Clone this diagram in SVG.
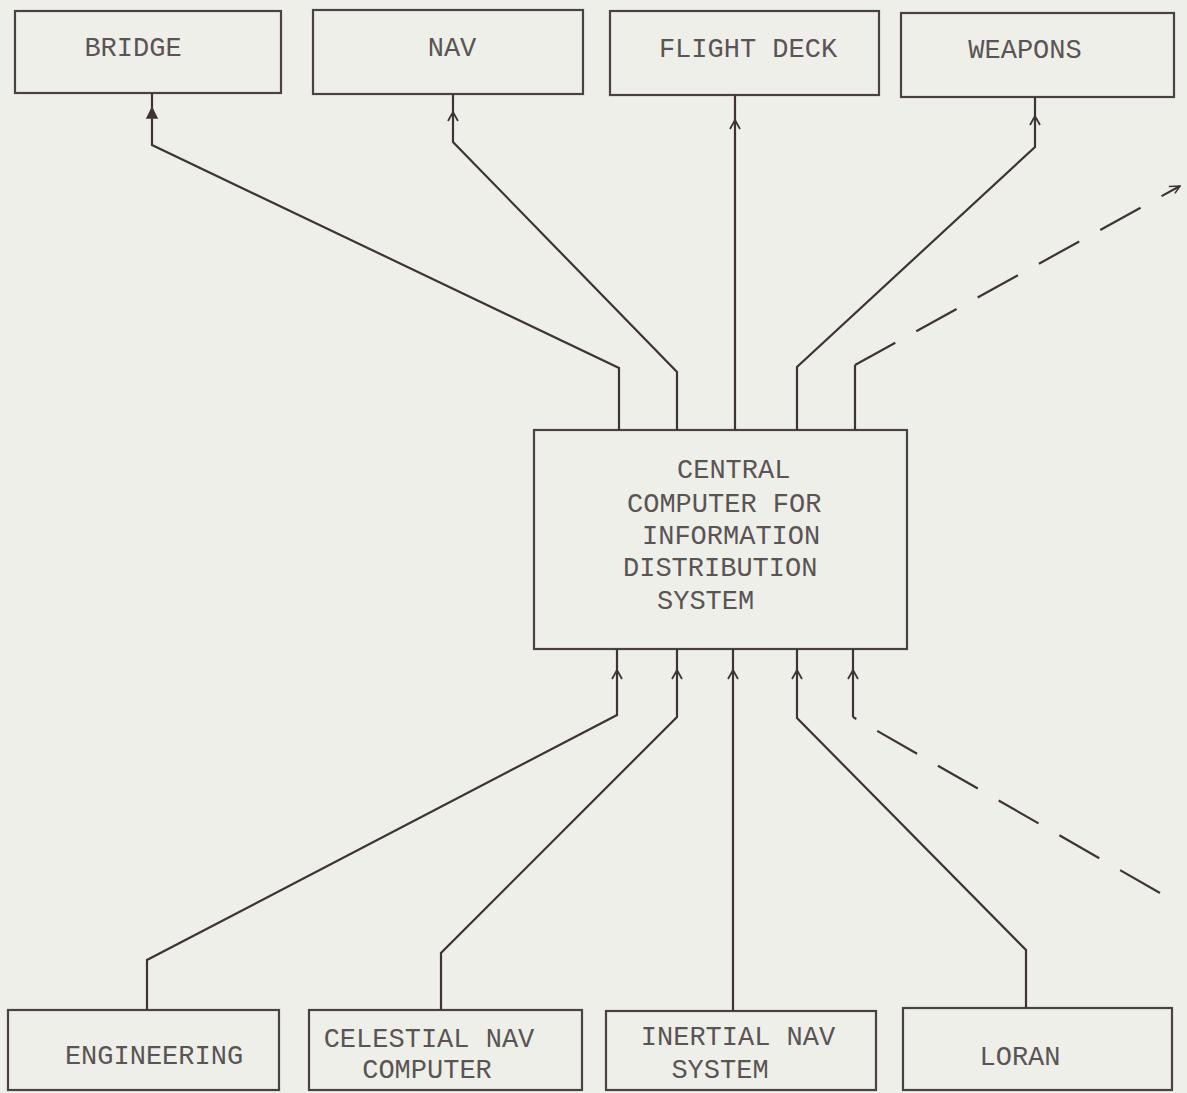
<svg xmlns="http://www.w3.org/2000/svg" xmlns:xlink="http://www.w3.org/1999/xlink" width="1187" height="1093" viewBox="0 0 1187 1093">
<style>
.box{fill:none;stroke:#4a4242;stroke-width:2.2}
.t{font-family:"Liberation Mono","Courier New",monospace;font-size:27px;fill:#5a5454}
.c{text-anchor:middle}
.ln{fill:none;stroke:#3e3434;stroke-width:2.2;stroke-linejoin:miter}
.dash{stroke-dasharray:46 24}
.ah{fill:none;stroke:#3e3434;stroke-width:1.8}
</style>
<defs>
<path id="ah" class="ah" d="M-5,9 L0,0 L5,9"/>
<marker id="tip" viewBox="0 0 12 12" refX="11" refY="6" markerWidth="12" markerHeight="12" markerUnits="userSpaceOnUse" orient="auto">
<path d="M1,1 L11,6 L3,10" fill="none" stroke="#3e3434" stroke-width="1.6"/>
</marker>
</defs>
<rect width="1187" height="1093" fill="#efefea"/>

<g id="bridge"><rect class="box" x="15" y="11" width="266" height="82"/><text class="t c" x="133" y="56">BRIDGE</text></g>
<g id="nav"><rect class="box" x="313" y="10" width="270" height="84"/><text class="t c" x="452" y="56">NAV</text></g>
<g id="flight-deck"><rect class="box" x="610" y="11" width="269" height="84"/><text class="t c" x="748" y="57">FLIGHT DECK</text></g>
<g id="weapons"><rect class="box" x="901" y="13" width="273" height="84"/><text class="t c" x="1025" y="58">WEAPONS</text></g>

<g id="central"><rect class="box" x="534" y="430" width="373" height="219"/>
<text class="t" x="677" y="478">CENTRAL</text>
<text class="t" x="627" y="512">COMPUTER FOR</text>
<text class="t" x="642" y="544">INFORMATION</text>
<text class="t" x="623" y="576">DISTRIBUTION</text>
<text class="t" x="657" y="609">SYSTEM</text>
</g>

<g id="engineering"><rect class="box" x="8" y="1010" width="271" height="80"/><text class="t c" x="154" y="1064">ENGINEERING</text></g>
<g id="celestial"><rect class="box" x="309" y="1010" width="273" height="80"/><text class="t c" x="429" y="1047">CELESTIAL NAV</text><text class="t c" x="427" y="1078">COMPUTER</text></g>
<g id="inertial"><rect class="box" x="606" y="1011" width="270" height="79"/><text class="t c" x="738" y="1045">INERTIAL NAV</text><text class="t c" x="720" y="1078">SYSTEM</text></g>
<g id="loran"><rect class="box" x="903" y="1008" width="269" height="82"/><text class="t c" x="1020" y="1065">LORAN</text></g>

<g id="connectors">
<path class="ln" d="M619,430 V368 L152,145 V93"/>
<path d="M147,118 L152,108 L157,118 Z" fill="#3e3434" stroke="#3e3434" stroke-width="1.5"/>
<path class="ln" d="M677,430 V372 L453,142 V94"/>
<use xlink:href="#ah" x="453" y="112"/>
<path class="ln" d="M735,430 V95"/>
<use xlink:href="#ah" x="735" y="120"/>
<path class="ln" d="M797,430 V367 L1035,147 V97"/>
<use xlink:href="#ah" x="1035" y="116"/>
<path class="ln" d="M855,430 V365"/>
<path class="ln dash" d="M855,365 L1180,186" marker-end="url(#tip)"/>

<path class="ln" d="M147,1010 V960 L617,715 V649"/>
<use xlink:href="#ah" x="617" y="670"/>
<path class="ln" d="M441,1010 V953 L677,717 V649"/>
<use xlink:href="#ah" x="677" y="670"/>
<path class="ln" d="M733,1011 V649"/>
<use xlink:href="#ah" x="733" y="670"/>
<path class="ln" d="M1026,1008 V950 L797,718 V649"/>
<use xlink:href="#ah" x="797" y="670"/>
<path class="ln dash" d="M1160,893 L853,717"/>
<path class="ln" d="M853,717 V649"/>
<use xlink:href="#ah" x="853" y="670"/>
</g>
</svg>
